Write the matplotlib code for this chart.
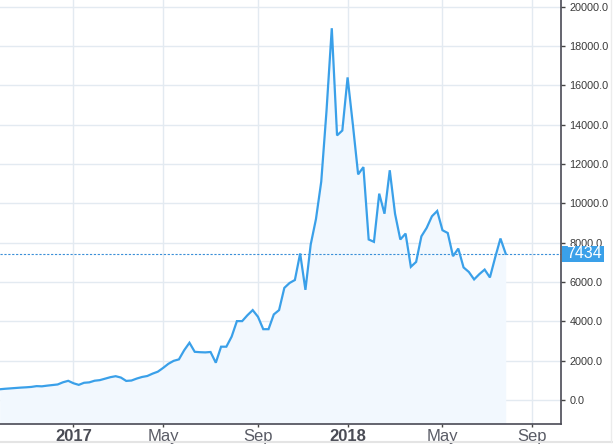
import numpy as np
import pandas as pd
import matplotlib
matplotlib.use('Agg')
import matplotlib.pyplot as plt
import matplotlib.dates as mdates
from matplotlib.patches import Rectangle
from matplotlib.lines import Line2D

plt.rcParams['font.family'] = ['Liberation Sans', 'DejaVu Sans']

# weekly closes, first week starting 2016-09-26
start_date = '2016-09-26'
prices = [545, 570, 590, 610, 630, 645, 665, 705, 695, 730,
          760, 790, 900, 975, 850, 770, 875, 897, 980, 1010,
          1085, 1160, 1210, 1140, 970, 990, 1090, 1170, 1220, 1340,
          1440, 1630, 1840, 1990, 2065, 2530, 2910, 2450, 2430, 2420,
          2440, 1895, 2710, 2710, 3220, 4010, 4010, 4310, 4570, 4230,
          3600, 3600, 4350, 4570, 5700, 5950, 6100, 7450, 5600, 7900,
          9200, 11100, 14700, 18900, 13450, 13700, 16400, 14000, 11470, 11840,
          8160, 8040, 10490, 9470, 11680, 9470, 8160, 8460, 6770, 7020,
          8320, 8750, 9340, 9610, 8630, 8490, 7310, 7700, 6740, 6510,
          6130, 6400, 6630, 6230, 7250, 8210, 7434]
last_price = 7434

tick_dates = ['2017-01-02', '2017-05-01', '2017-09-04', '2018-01-01', '2018-05-07', '2018-09-03']
tick_labels = ['2017', 'May', 'Sep', '2018', 'May', 'Sep']
y_ticks = [0, 2000, 4000, 6000, 8000, 10000, 12000, 14000, 16000, 18000, 20000]

dates = pd.date_range(start_date, periods=len(prices), freq='7D')
x = mdates.date2num(dates)
y = np.array(prices, dtype=float)

W, H = 613, 446
fig = plt.figure(figsize=(W / 100, H / 100), dpi=100)
fig.patch.set_facecolor('white')
ax = fig.add_axes([0, (H - 423.7) / H, 561.3 / W, 423.7 / H])

x0 = mdates.date2num(pd.Timestamp('2017-01-01'))
ax.set_xlim(x0 - 96.6, x0 + 648.8)
ax.set_ylim(-1205, 20335)

line_col = '#3aa0e9'
ax.fill_between(x, y, -1205, color='#f2f8fe', lw=0, zorder=1)
ax.plot(x, y, color=line_col, lw=1.6, zorder=3, solid_joinstyle='miter')
ax.axhline(last_price, color='#3a8fd8', lw=0.8, ls=(0, (2, 1.5)), zorder=2)

ax.set_xticks(mdates.date2num(pd.to_datetime(tick_dates)))
ax.set_xticklabels(tick_labels)
for lbl in ax.get_xticklabels():
    if lbl.get_text().isdigit():
        lbl.set_fontweight('bold')
        lbl.set_color('#4a4c55')
    else:
        lbl.set_color('#5a5c66')
ax.set_yticks(y_ticks)
ax.set_yticklabels(['%.1f' % v for v in y_ticks])
ax.yaxis.tick_right()

ax.tick_params(axis='x', labelsize=12, length=2.5, width=1, color='#444', pad=1)
ax.tick_params(axis='y', labelsize=7.8, length=3, width=1, color='#444', pad=3, labelcolor='#3a3a3a')

ax.grid(True, color='#e3eaf1', lw=1, zorder=0)
ax.set_axisbelow(True)
for side in ['top', 'left']:
    ax.spines[side].set_visible(False)
for side in ['right', 'bottom']:
    ax.spines[side].set_color('#4a4a55')
    ax.spines[side].set_linewidth(1.2)

# price box on the axis
box = Rectangle((561.7 / W, (H - 261.7) / H), 42.6 / W, 15.7 / H,
                transform=fig.transFigure, facecolor=line_col, edgecolor='none')
fig.patches.append(box)
t = fig.text(566.5 / W, (H - 254) / H, '%d' % last_price, color='white',
             fontsize=11.5, va='center', ha='left')
t.set_clip_path(box)

# widget frame lines
fig.lines.append(Line2D([0, 1], [(H - 442) / H] * 2, transform=fig.transFigure,
                        color='#e4e4e4', lw=1.5))
fig.lines.append(Line2D([611 / W] * 2, [(H - 442) / H, 1], transform=fig.transFigure,
                        color='#ececec', lw=1))

fig.savefig('out.png', dpi=100)
